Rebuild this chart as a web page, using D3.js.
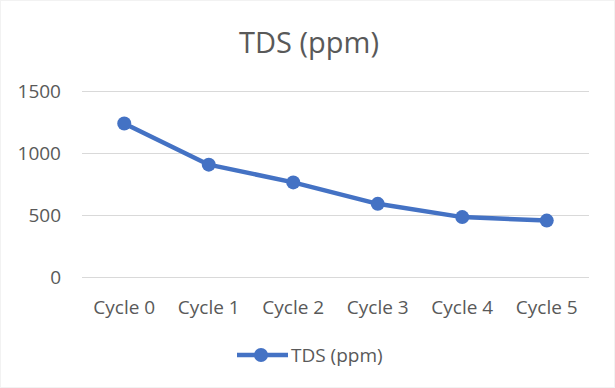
<!DOCTYPE html>
<html>
<head>
<meta charset="utf-8">
<script src="https://cdn.jsdelivr.net/npm/d3@7"></script>
<style>
  body { margin: 0; background: #fff; }
  text { font-family: "Open Sans", "Noto Sans", sans-serif; fill: #595959; }
</style>
</head>
<body>
<div id="chart"></div>
<script>
// data
var categories = ["Cycle 0", "Cycle 1", "Cycle 2", "Cycle 3", "Cycle 4", "Cycle 5"];
var tdsValues = [1238, 906, 763, 590, 483, 455];
var yTicks = [0, 500, 1000, 1500];
var seriesName = "TDS (ppm)";

var W = 615, H = 388;
var margin = {left: 82, right: 26, top: 91, bottom: 111};
var color = "#4472C4";

var svg = d3.select("#chart").append("svg")
  .attr("width", W)
  .attr("height", H);

svg.append("rect")
  .attr("x", 0.5).attr("y", 0.5)
  .attr("width", W - 1).attr("height", H - 1)
  .attr("fill", "#fff")
  .attr("stroke", "#f2f2f2");

var x = d3.scaleBand()
  .domain(categories)
  .range([margin.left, W - margin.right]);

var y = d3.scaleLinear()
  .domain([0, 1500])
  .range([H - margin.bottom, margin.top]);

// gridlines
svg.append("g")
  .selectAll("line")
  .data(yTicks)
  .enter().append("line")
  .attr("x1", margin.left)
  .attr("x2", W - margin.right)
  .attr("y1", function(d) {return Math.round(y(d)) + 0.5;})
  .attr("y2", function(d) {return Math.round(y(d)) + 0.5;})
  .attr("stroke", "#d9d9d9")
  .attr("stroke-width", 1);

// y labels
svg.append("g")
  .selectAll("text")
  .data(yTicks)
  .enter().append("text")
  .attr("x", 61)
  .attr("y", function(d) {return y(d);})
  .attr("dy", "0.35em")
  .attr("text-anchor", "end")
  .style("font-size", "19px")
  .text(function(d) {return d;});

// x labels
svg.append("g")
  .selectAll("text")
  .data(categories)
  .enter().append("text")
  .attr("x", function(d) {return x(d) + x.bandwidth() / 2;})
  .attr("y", 314)
  .attr("text-anchor", "middle")
  .style("font-size", "19px")
  .text(function(d) {return d;});

// title
svg.append("text")
  .attr("x", 309)
  .attr("y", 53)
  .attr("text-anchor", "middle")
  .style("font-size", "29px")
  .text(seriesName);

// line
var line = d3.line()
  .x(function(d, i) {return x(categories[i]) + x.bandwidth() / 2;})
  .y(function(d) {return y(d);});

svg.append("path")
  .datum(tdsValues)
  .attr("d", line)
  .attr("fill", "none")
  .attr("stroke", color)
  .attr("stroke-width", 4.5)
  .attr("stroke-linejoin", "round");

svg.append("g")
  .selectAll("circle")
  .data(tdsValues)
  .enter().append("circle")
  .attr("cx", function(d, i) {return x(categories[i]) + x.bandwidth() / 2;})
  .attr("cy", function(d) {return y(d);})
  .attr("r", 7)
  .attr("fill", color);

// legend
var leg = svg.append("g");
leg.append("line")
  .attr("x1", 237).attr("x2", 288)
  .attr("y1", 355).attr("y2", 355)
  .attr("stroke", color)
  .attr("stroke-width", 4.5);
leg.append("circle")
  .attr("cx", 261).attr("cy", 355).attr("r", 7)
  .attr("fill", color);
leg.append("text")
  .attr("x", 291)
  .attr("y", 355)
  .attr("dy", "0.35em")
  .style("font-size", "19px")
  .text(seriesName);
</script>
</body>
</html>
